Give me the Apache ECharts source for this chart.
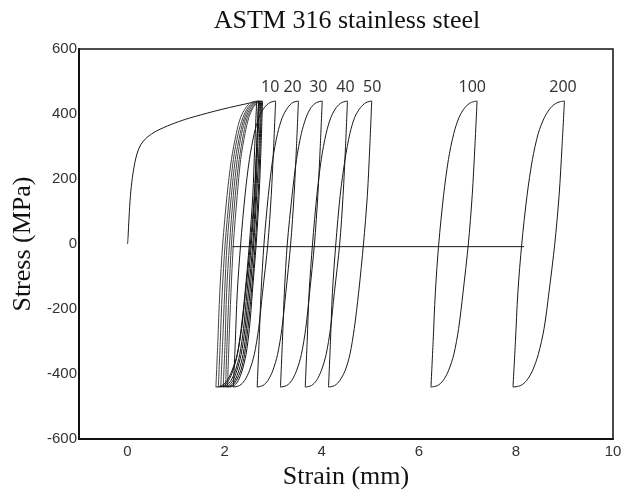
<!DOCTYPE html>
<html>
<head>
<meta charset="utf-8">
<script src="https://cdn.jsdelivr.net/npm/echarts@6/dist/echarts.min.js"></script>
<style>
  html, body { margin: 0; padding: 0; background: #fff; }
  #chart-container { width: 632px; height: 495px; }
</style>
</head>
<body>
<div id="chart-container"></div>
<script>
// stress levels (MPa) at which strain was read along each branch
const loadStress = [-440, -300, -150, 0, 150, 260, 340, 390, 420, 435, 440];
const unloadStress = [440, 300, 150, 0, -150, -260, -340, -390, -420, -435, -440];

// first (monotonic) loading curve
const monoStrain = [0, 0.01, 0.03, 0.06, 0.1, 0.15, 0.2, 0.27, 0.4, 0.6, 0.9, 1.2, 1.5, 1.8, 2.1, 2.4, 2.7];
const monoStress = [0, 20, 80, 150, 205, 250, 280, 305, 328, 348, 368, 384, 397, 409, 420, 430, 440];

// early cycles (bunched together), strain along loading / unloading branches
const earlyLoadStrain = [
  [1.82, 1.86, 1.90, 1.96, 2.05, 2.14, 2.24, 2.33, 2.44, 2.54, 2.66],
  [1.87, 1.91, 1.95, 2.01, 2.10, 2.18, 2.28, 2.38, 2.48, 2.59, 2.70],
  [1.92, 1.96, 2.00, 2.05, 2.14, 2.22, 2.32, 2.41, 2.51, 2.61, 2.72],
  [1.97, 2.01, 2.04, 2.10, 2.18, 2.26, 2.35, 2.44, 2.54, 2.63, 2.74],
  [2.02, 2.05, 2.09, 2.14, 2.22, 2.30, 2.39, 2.47, 2.57, 2.66, 2.76],
  [2.06, 2.09, 2.13, 2.18, 2.26, 2.33, 2.42, 2.50, 2.59, 2.68, 2.78]
];
const earlyUnloadStrain = [
  [2.70, 2.66, 2.61, 2.53, 2.43, 2.35, 2.26, 2.15, 2.05, 1.95, 1.82],
  [2.66, 2.62, 2.58, 2.51, 2.42, 2.34, 2.26, 2.17, 2.08, 1.99, 1.87],
  [2.70, 2.66, 2.62, 2.55, 2.46, 2.39, 2.31, 2.22, 2.13, 2.03, 1.92],
  [2.72, 2.68, 2.64, 2.58, 2.49, 2.42, 2.34, 2.25, 2.17, 2.08, 1.97],
  [2.74, 2.71, 2.66, 2.60, 2.52, 2.45, 2.38, 2.29, 2.21, 2.13, 2.02],
  [2.76, 2.73, 2.69, 2.63, 2.55, 2.48, 2.41, 2.33, 2.24, 2.16, 2.06],
  [2.78, 2.75, 2.71, 2.65, 2.57, 2.51, 2.44, 2.36, 2.28, 2.20, 2.10]
];

// labelled cycles: 10, 20, 30, 40, 50, 100, 200
const cycleNames = ["10", "20", "30", "40", "50", "100", "200"];
const cycleLoadStrain = [
  [2.18, 2.22, 2.26, 2.33, 2.42, 2.51, 2.61, 2.71, 2.82, 2.93, 3.05],
  [2.67, 2.71, 2.75, 2.81, 2.90, 2.99, 3.09, 3.19, 3.30, 3.40, 3.52],
  [3.15, 3.19, 3.23, 3.29, 3.39, 3.48, 3.58, 3.68, 3.78, 3.89, 4.01],
  [3.66, 3.70, 3.74, 3.81, 3.90, 3.99, 4.09, 4.19, 4.30, 4.41, 4.53],
  [4.14, 4.18, 4.22, 4.29, 4.38, 4.48, 4.58, 4.68, 4.80, 4.91, 5.03],
  [6.25, 6.295, 6.34, 6.41, 6.51, 6.61, 6.72, 6.83, 6.95, 7.07, 7.20],
  [7.94, 7.99, 8.04, 8.12, 8.23, 8.34, 8.46, 8.59, 8.72, 8.85, 9.00]
];
const cycleUnloadStrain = [
  [3.05, 3.01, 2.96, 2.89, 2.78, 2.70, 2.61, 2.51, 2.41, 2.31, 2.18],
  [3.52, 3.48, 3.43, 3.36, 3.26, 3.18, 3.09, 2.99, 2.89, 2.79, 2.67],
  [4.01, 3.97, 3.92, 3.85, 3.75, 3.67, 3.58, 3.48, 3.38, 3.28, 3.15],
  [4.53, 4.49, 4.44, 4.37, 4.26, 4.18, 4.09, 3.99, 3.89, 3.79, 3.66],
  [5.03, 4.99, 4.94, 4.86, 4.76, 4.67, 4.58, 4.48, 4.37, 4.27, 4.14],
  [7.20, 7.155, 7.10, 7.02, 6.91, 6.82, 6.72, 6.61, 6.50, 6.39, 6.25],
  [9.00, 8.95, 8.89, 8.80, 8.68, 8.58, 8.46, 8.34, 8.22, 8.10, 7.94]
];
const cycleLabelStrain = [2.94, 3.40, 3.93, 4.49, 5.04, 7.10, 8.97];
const cycleLabelStress = [482, 482, 482, 482, 482, 482, 482];

// horizontal reference line
const baseStrain = [2.16, 8.17];
const baseStress = [-8, -8];

const zip = (xs, ys) => xs.map((x, i) => [x, ys[i]]);

const lineColor = "#1a1a1a";
const branch = (data, color) => ({
  type: "line",
  data: data,
  symbol: "none",
  smooth: 0.3,
  silent: true,
  lineStyle: { color: color || lineColor, width: 1 },
});

const series = [];
series.push(branch(zip(monoStrain, monoStress)));
earlyLoadStrain.forEach((s) => series.push(branch(zip(s, loadStress), "#444")));
earlyUnloadStrain.forEach((s) => series.push(branch(zip(s, unloadStress), "#111")));
cycleLoadStrain.forEach((s) => series.push(branch(zip(s, loadStress))));
cycleUnloadStrain.forEach((s) => series.push(branch(zip(s, unloadStress))));
series.push({
  type: "line",
  data: zip(baseStrain, baseStress),
  symbol: "none",
  silent: true,
  lineStyle: { color: lineColor, width: 1 },
});
series.push({
  type: "scatter",
  symbolSize: 0,
  silent: true,
  data: cycleNames.map((n, i) => [cycleLabelStrain[i], cycleLabelStress[i], n]),
  label: {
    show: true,
    position: "inside",
    formatter: (p) => p.value[2],
    fontFamily: "Noto Sans",
    fontSize: 16,
    color: "#000",
  },
});

const dom = document.getElementById("chart-container");
const myChart = echarts.init(dom, null, { renderer: "canvas" });

const option = {
  animation: false,
  backgroundColor: "#fff",
  title: {
    text: "ASTM 316 stainless steel",
    left: 347,
    top: 8,
    textAlign: "center",
    padding: 0,
    textStyle: {
      fontFamily: "Liberation Serif",
      fontWeight: "normal",
      fontSize: 26,
      color: "#111",
    },
  },
  grid: {
    left: 79,
    right: 19,
    top: 49,
    bottom: 48,
    show: true,
    borderColor: "#111",
    borderWidth: 1.5,
  },
  xAxis: {
    type: "value",
    min: -1,
    max: 10,
    name: "Strain (mm)",
    nameLocation: "middle",
    nameGap: 21,
    nameTextStyle: {
      fontFamily: "Liberation Serif",
      fontSize: 26,
      color: "#111",
    },
    axisLine: { onZero: false, lineStyle: { color: "#111", width: 2 } },
    axisTick: { show: false },
    splitLine: { show: false },
    axisLabel: {
      customValues: [0, 2, 4, 6, 8, 10],
      fontFamily: "Liberation Sans",
      fontSize: 15,
      color: "#333",
      margin: 5,
    },
  },
  yAxis: {
    type: "value",
    min: -600,
    max: 600,
    interval: 200,
    name: "Stress (MPa)",
    nameLocation: "middle",
    nameGap: 32,
    nameTextStyle: {
      fontFamily: "Liberation Serif",
      fontSize: 26,
      color: "#111",
    },
    axisLine: { onZero: false, lineStyle: { color: "#111", width: 2 } },
    axisTick: { show: false },
    splitLine: { show: false },
    axisLabel: {
      fontFamily: "Liberation Sans",
      fontSize: 15,
      color: "#333",
      margin: 2,
    },
  },
  series: series,
};

myChart.setOption(option);
</script>
</body>
</html>
